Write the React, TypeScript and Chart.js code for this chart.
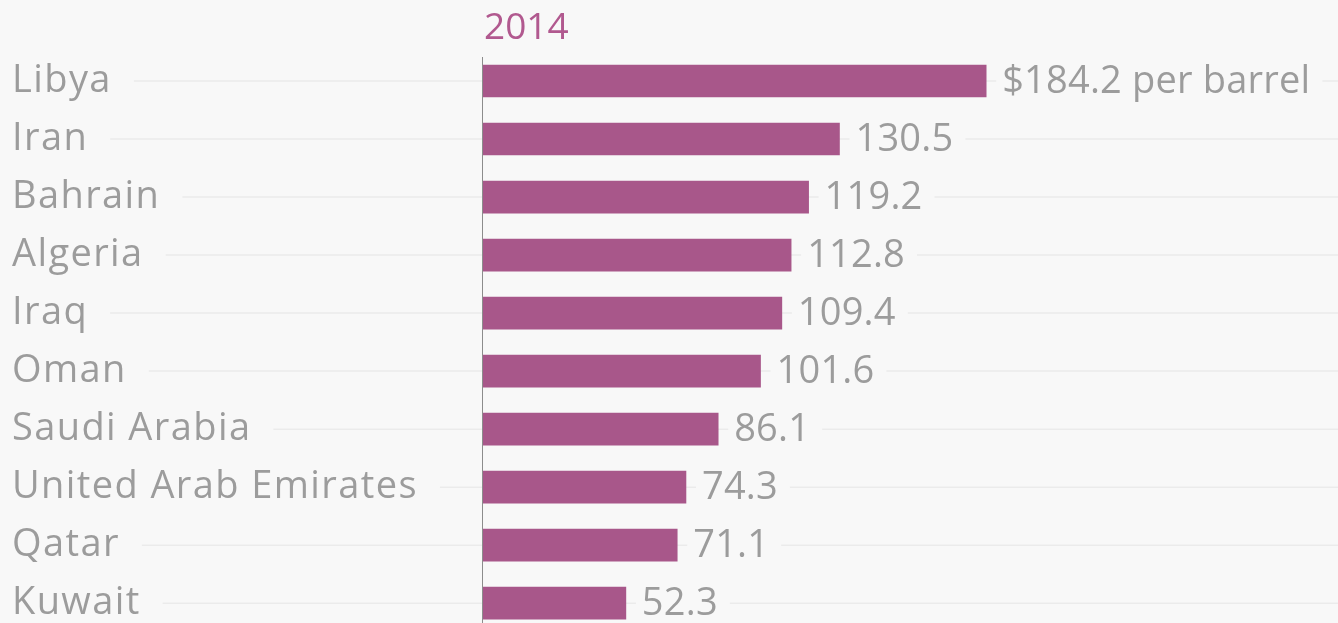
import React, { useEffect, useRef } from 'react';
import { Chart, registerables } from 'chart.js';

Chart.register(...registerables);

const countries = [
  'Libya',
  'Iran',
  'Bahrain',
  'Algeria',
  'Iraq',
  'Oman',
  'Saudi Arabia',
  'United Arab Emirates',
  'Qatar',
  'Kuwait',
];
const prices = [184.2, 130.5, 119.2, 112.8, 109.4, 101.6, 86.1, 74.3, 71.1, 52.3];
const seriesTitle = '2014';
const firstLabelPrefix = '$';
const firstLabelSuffix = ' per barrel';

const BG = '#f8f8f8';
const BAR = '#a8578a';
const TITLE = '#b1598f';
const TEXT = '#9c9c9c';
const GRID = '#ebebeb';
const AXIS = '#8c8c8c';
const FONT = '"Open Sans", sans-serif';
const FONT_SIZE = 38;
const LABEL_SPACING = '1.4px';

const W = 1338;
const H = 655;

export default function App() {
  const ref = useRef<HTMLCanvasElement | null>(null);

  useEffect(() => {
    document.body.style.margin = '0';
    const canvas = ref.current;
    if (!canvas) return;

    const backgroundGrid = {
      id: 'backgroundGrid',
      beforeDraw(chart: any) {
        const { ctx } = chart;
        const y = chart.scales.y;
        ctx.save();
        ctx.fillStyle = BG;
        ctx.fillRect(0, 0, chart.width, chart.height);
        ctx.font = `${FONT_SIZE}px ${FONT}`;
        (ctx as any).letterSpacing = LABEL_SPACING;
        ctx.strokeStyle = GRID;
        ctx.lineWidth = 1.5;
        for (let i = 0; i < countries.length; i++) {
          const py = y.getPixelForTick(i);
          const startX = y.left + ctx.measureText(countries[i]).width + 22;
          ctx.beginPath();
          ctx.moveTo(startX, py);
          ctx.lineTo(chart.width, py);
          ctx.stroke();
        }
        ctx.restore();
        (ctx as any).letterSpacing = LABEL_SPACING;
      },
      beforeDatasetsDraw(chart: any) {
        const { ctx, chartArea } = chart;
        (ctx as any).letterSpacing = '0px';
        ctx.save();
        ctx.strokeStyle = AXIS;
        ctx.lineWidth = 1;
        ctx.beginPath();
        ctx.moveTo(chartArea.left - 0.5, chartArea.top + 5);
        ctx.lineTo(chartArea.left - 0.5, chart.height);
        ctx.stroke();
        ctx.restore();
      },
    };

    const valueLabels = {
      id: 'valueLabels',
      afterDatasetsDraw(chart: any) {
        const { ctx } = chart;
        const meta = chart.getDatasetMeta(0);
        ctx.save();
        ctx.font = `${FONT_SIZE}px ${FONT}`;
        (ctx as any).letterSpacing = '0.2px';
        ctx.textBaseline = 'middle';
        ctx.textAlign = 'left';
        meta.data.forEach((bar: any, i: number) => {
          const v = prices[i];
          const txt = i === 0 ? `${firstLabelPrefix}${v.toFixed(1)}${firstLabelSuffix}` : v.toFixed(1);
          const x = bar.x + 16;
          const w = ctx.measureText(txt).width;
          ctx.fillStyle = BG;
          ctx.fillRect(x - 6, bar.y - 20, w + 18, 40);
          ctx.fillStyle = TEXT;
          ctx.fillText(txt, x, bar.y + 1);
        });
        ctx.restore();
      },
    };

    const seriesHeading = {
      id: 'seriesHeading',
      afterDraw(chart: any) {
        const { ctx } = chart;
        ctx.save();
        ctx.font = `37px ${FONT}`;
        ctx.fillStyle = TITLE;
        ctx.textAlign = 'left';
        ctx.textBaseline = 'middle';
        ctx.fillText(seriesTitle, chart.chartArea.left + 1, 28);
        ctx.restore();
      },
    };

    const chart = new Chart(canvas, {
      type: 'bar',
      data: {
        labels: countries,
        datasets: [
          {
            data: prices,
            backgroundColor: BAR,
            borderWidth: 0,
            barThickness: 32,
          },
        ],
      },
      options: {
        indexAxis: 'y',
        responsive: false,
        animation: false,
        devicePixelRatio: 1,
        layout: { padding: { top: 52, left: 12, right: 0, bottom: 0 } },
        plugins: {
          legend: { display: false },
          tooltip: { enabled: false },
          title: { display: false },
        },
        scales: {
          x: {
            display: false,
            min: 0,
            max: 313,
          },
          y: {
            type: 'category',
            offset: true,
            grid: { display: false, drawTicks: false },
            border: { display: false },
            ticks: {
              crossAlign: 'far',
              color: TEXT,
              padding: 0,
              font: { family: FONT, size: FONT_SIZE },
            },
            afterFit: (s: any) => {
              s.width = 471;
            },
          },
        },
      },
      plugins: [backgroundGrid, valueLabels, seriesHeading],
    } as any);

    return () => chart.destroy();
  }, []);

  return (
    <div style={{ width: W, height: 623, overflow: 'hidden', background: BG }}>
      <canvas ref={ref} width={W} height={H} style={{ display: 'block', width: W, height: H }} />
    </div>
  );
}
